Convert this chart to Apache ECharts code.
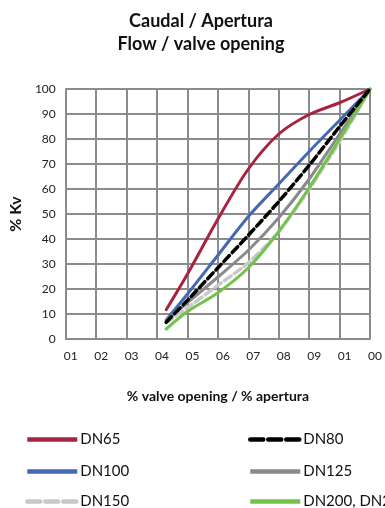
<!DOCTYPE html>
<html>
<head>
<meta charset="utf-8">
<script src="https://cdn.jsdelivr.net/npm/echarts@6/dist/echarts.min.js"></script>
<style>
  html, body { margin: 0; padding: 0; background: #fff; }
  #chart { width: 385px; height: 508px; }
</style>
</head>
<body>
<div id="chart"></div>
<script>
// Opening positions (x axis units) at which each curve is sampled
const opening = [33, 40, 50, 60, 70, 80, 90, 100];

// % Kv for each nominal diameter
const dn65  = [11.7, 26, 48, 68, 82, 89.8, 94.5, 100];
const dn80  = [6.7, 15.5, 28.5, 41.5, 55, 69.5, 85, 100];
const dn100 = [7.6, 18, 33.5, 49, 62, 75, 87.5, 100];
const dn125 = [7.4, 14.5, 24.8, 35.5, 48.5, 64, 82, 100];
const dn150 = [6.5, 12.5, 21.5, 30.5, 43, 60, 79, 100];
const dn200 = [4, 11, 18.5, 28.5, 43, 60.5, 80, 100];

// Tick labels along the opening axis
const xTickLabels = ['01', '02', '03', '04', '05', '06', '07', '08', '09', '01', '00'];

// Legend layout: [series name, left, top]
const legendSlots = [
  ['DN65', 25, 432], ['DN100', 25, 464], ['DN150', 25, 494],
  ['DN80', 248, 432], ['DN125', 248, 464], ['DN200, DN250', 248, 494]
];

const pairs = (ys) => opening.map((x, i) => [x, ys[i]]);

const FONT = 'Lato, "Open Sans", sans-serif';
const GRID = '#8c8c8c';

const styles = {
  'DN65':  { color: '#A8233F', width: 3, type: 'solid' },
  'DN100': { color: '#4468B4', width: 3, type: 'solid' },
  'DN125': { color: '#8A8A8A', width: 3, type: 'solid' },
  'DN150': { color: '#C9C9C9', width: 3.5, type: [8, 4] },
  'DN200, DN250': { color: '#73C24B', width: 3, type: 'solid' },
  'DN80':  { color: '#000000', width: 3.5, type: [8, 4] }
};

function lineSeries(name, ys) {
  const s = styles[name];
  return {
    name: name,
    type: 'line',
    data: pairs(ys),
    smooth: 0.3,
    symbol: 'none',
    lineStyle: { color: s.color, width: s.width, type: s.type, cap: 'round' },
    itemStyle: { color: s.color }
  };
}

const legends = legendSlots.map(([name, left, top]) => {
  const s = styles[name];
  const dashed = Array.isArray(s.type);
  return {
    orient: 'vertical', left: left, top: top,
    padding: 0,
    itemWidth: 50, itemHeight: 14,
    selectedMode: false,
    itemStyle: { opacity: 0 },
    lineStyle: { width: 4.5, type: dashed ? [13, 5] : 'solid', cap: dashed ? 'round' : 'butt' },
    textStyle: { fontFamily: FONT, fontSize: 15, color: '#111', padding: [0, 0, 0, -2] },
    data: [name]
  };
});

const chart = echarts.init(document.getElementById('chart'), null, { renderer: 'canvas' });

chart.setOption({
  animation: false,
  backgroundColor: '#fff',
  title: {
    text: 'Caudal / Apertura\nFlow / valve opening',
    left: 196,
    textAlign: 'center',
    top: 5,
    textStyle: { fontFamily: FONT, fontWeight: 'bold', fontSize: 18, lineHeight: 23, color: '#111' }
  },
  grid: { left: 64, right: 9, top: 89, bottom: 169 },
  xAxis: {
    type: 'value',
    min: 0, max: 100, interval: 10,
    name: '% valve opening / % apertura',
    nameLocation: 'middle',
    nameGap: 50,
    nameTextStyle: { fontFamily: FONT, fontWeight: 'bold', fontSize: 14, color: '#111' },
    axisLine: { show: true, lineStyle: { color: GRID, width: 2 } },
    axisTick: { show: false },
    splitLine: { show: true, lineStyle: { color: GRID, width: 2 } },
    axisLabel: {
      fontFamily: FONT, fontSize: 12, color: '#222',
      margin: 11, align: 'left', padding: [0, 0, 0, -2],
      showMaxLabel: true, showMinLabel: true,
      formatter: (v) => xTickLabels[Math.round(v / 10)] || ''
    }
  },
  yAxis: {
    type: 'value',
    min: 0, max: 100, interval: 10,
    name: '% Kv',
    nameLocation: 'middle',
    nameGap: 37,
    nameRotate: 90,
    nameTextStyle: { fontFamily: FONT, fontWeight: 'bold', fontSize: 16, color: '#111' },
    axisLine: { show: true, lineStyle: { color: GRID, width: 2 } },
    axisTick: { show: false },
    splitLine: { show: true, lineStyle: { color: GRID, width: 2 } },
    axisLabel: { fontFamily: FONT, fontSize: 12, color: '#222', margin: 10 }
  },
  legend: legends,
  series: [
    lineSeries('DN65', dn65),
    lineSeries('DN100', dn100),
    lineSeries('DN125', dn125),
    lineSeries('DN150', dn150),
    lineSeries('DN200, DN250', dn200),
    lineSeries('DN80', dn80)
  ]
});
</script>
</body>
</html>
